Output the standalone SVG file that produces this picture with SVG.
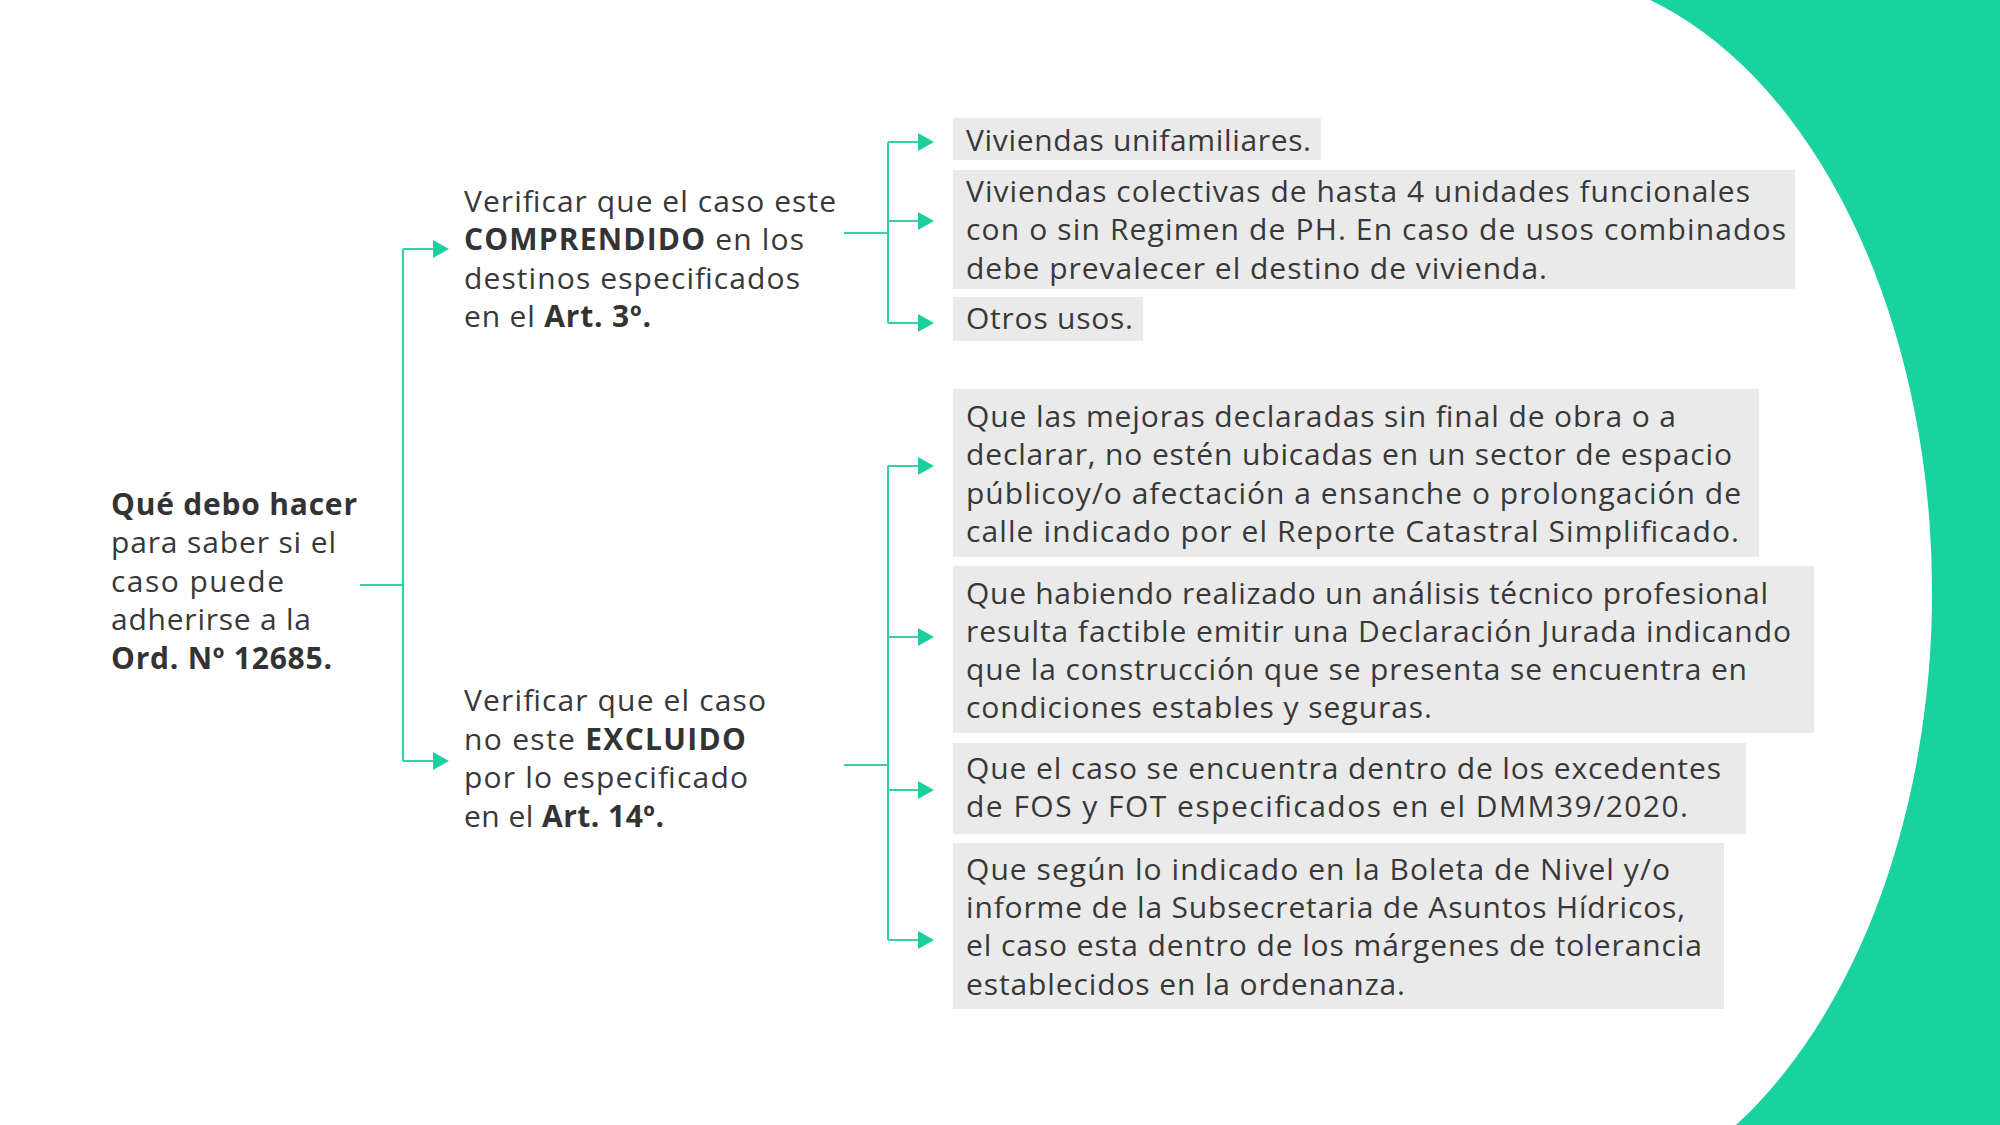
<svg xmlns="http://www.w3.org/2000/svg" width="2000" height="1125" viewBox="0 0 2000 1125">
<style>
.t{font-family:"Open Sans","Noto Sans","DejaVu Sans",sans-serif;font-size:30px;fill:#383838}
.b{font-weight:700;fill:#333333}
.box{fill:#eaeaea}
.c{fill:none;stroke:#2fd3a4;stroke-width:2}
</style>
<defs>
<marker id="ah" markerUnits="userSpaceOnUse" markerWidth="16" markerHeight="18" refX="8" refY="9" orient="auto" viewBox="0 0 16 18">
<path d="M0,0 L16,9 L0,18 Z" fill="#1ccf9e"/>
</marker>
</defs>
<rect width="2000" height="1125" fill="#ffffff"/>
<path id="bg-shape" d="M1650,0 A401,620 0 0 1 1736,1125 L2000,1125 L2000,0 Z" fill="#18d2a0"/>

<g id="connectors">
<path class="c" d="M360,585 H403 M403,249 V761"/>
<path class="c" d="M403,249 H441" marker-end="url(#ah)"/>
<path class="c" d="M403,761 H441" marker-end="url(#ah)"/>
<path class="c" d="M844,233 H888 M888,142 V323"/>
<path class="c" d="M888,142 H926" marker-end="url(#ah)"/>
<path class="c" d="M888,221 H926" marker-end="url(#ah)"/>
<path class="c" d="M888,323 H926" marker-end="url(#ah)"/>
<path class="c" d="M844,765 H888 M888,466 V940"/>
<path class="c" d="M888,466 H926" marker-end="url(#ah)"/>
<path class="c" d="M888,637 H926" marker-end="url(#ah)"/>
<path class="c" d="M888,790 H926" marker-end="url(#ah)"/>
<path class="c" d="M888,940 H926" marker-end="url(#ah)"/>
</g>

<g id="node-root">
<text class="t b" x="111" y="515" textLength="246" lengthAdjust="spacing">Qué debo hacer</text>
<text class="t" x="111" y="553" textLength="225" lengthAdjust="spacing">para saber si el</text>
<text class="t" x="111" y="592" textLength="173" lengthAdjust="spacing">caso puede</text>
<text class="t" x="111" y="630" textLength="200" lengthAdjust="spacing">adherirse a la</text>
<text class="t b" x="111" y="669" textLength="221" lengthAdjust="spacing">Ord. Nº 12685.</text>
</g>

<g id="node-comprendido">
<text class="t" x="464" y="212" textLength="372" lengthAdjust="spacing">Verificar que el caso este</text>
<text class="t" x="464" y="250" textLength="340" lengthAdjust="spacing"><tspan class="b">COMPRENDIDO</tspan> en los</text>
<text class="t" x="464" y="289" textLength="336" lengthAdjust="spacing">destinos especificados</text>
<text class="t" x="464" y="327" textLength="187" lengthAdjust="spacing">en el <tspan class="b">Art. 3º.</tspan></text>
</g>

<g id="node-excluido">
<text class="t" x="464" y="711" textLength="302" lengthAdjust="spacing">Verificar que el caso</text>
<text class="t" x="464" y="750" textLength="282" lengthAdjust="spacing">no este <tspan class="b">EXCLUIDO</tspan></text>
<text class="t" x="464" y="788" textLength="284" lengthAdjust="spacing">por lo especificado</text>
<text class="t" x="464" y="827" textLength="200" lengthAdjust="spacing">en el <tspan class="b">Art. 14º.</tspan></text>
</g>

<g id="node-box1">
<rect class="box" x="953" y="118" width="368" height="42"/>
<text class="t" x="966" y="151" textLength="345" lengthAdjust="spacing">Viviendas unifamiliares.</text>
</g>
<g id="node-box2">
<rect class="box" x="953" y="170" width="842" height="119"/>
<text class="t" x="966" y="202" textLength="784" lengthAdjust="spacing">Viviendas colectivas de hasta 4 unidades funcionales</text>
<text class="t" x="966" y="240" textLength="820" lengthAdjust="spacing">con o sin Regimen de PH. En caso de usos combinados</text>
<text class="t" x="966" y="279" textLength="581" lengthAdjust="spacing">debe prevalecer el destino de vivienda.</text>
</g>
<g id="node-box3">
<rect class="box" x="953" y="297" width="190" height="44"/>
<text class="t" x="966" y="329" textLength="167" lengthAdjust="spacing">Otros usos.</text>
</g>
<g id="node-box4">
<rect class="box" x="953" y="389" width="806" height="168"/>
<text class="t" x="966" y="427" textLength="710" lengthAdjust="spacing">Que las mejoras declaradas sin final de obra o a</text>
<text class="t" x="966" y="465" textLength="766" lengthAdjust="spacing">declarar, no estén ubicadas en un sector de espacio</text>
<text class="t" x="966" y="504" textLength="775" lengthAdjust="spacing">públicoy/o afectación a ensanche o prolongación de</text>
<text class="t" x="966" y="542" textLength="773" lengthAdjust="spacing">calle indicado por el Reporte Catastral Simplificado.</text>
</g>
<g id="node-box5">
<rect class="box" x="953" y="566" width="861" height="167"/>
<text class="t" x="966" y="604" textLength="802" lengthAdjust="spacing">Que habiendo realizado un análisis técnico profesional</text>
<text class="t" x="966" y="642" textLength="825" lengthAdjust="spacing">resulta factible emitir una Declaración Jurada indicando</text>
<text class="t" x="966" y="680" textLength="781" lengthAdjust="spacing">que la construcción que se presenta se encuentra en</text>
<text class="t" x="966" y="718" textLength="466" lengthAdjust="spacing">condiciones estables y seguras.</text>
</g>
<g id="node-box6">
<rect class="box" x="953" y="743" width="793" height="91"/>
<text class="t" x="966" y="779" textLength="755" lengthAdjust="spacing">Que el caso se encuentra dentro de los excedentes</text>
<text class="t" x="966" y="817" textLength="722" lengthAdjust="spacing">de FOS y FOT especificados en el DMM39/2020.</text>
</g>
<g id="node-box7">
<rect class="box" x="953" y="843" width="771" height="166"/>
<text class="t" x="966" y="880" textLength="704" lengthAdjust="spacing">Que según lo indicado en la Boleta de Nivel y/o</text>
<text class="t" x="966" y="918" textLength="719" lengthAdjust="spacing">informe de la Subsecretaria de Asuntos Hídricos,</text>
<text class="t" x="966" y="956" textLength="736" lengthAdjust="spacing">el caso esta dentro de los márgenes de tolerancia</text>
<text class="t" x="966" y="995" textLength="439" lengthAdjust="spacing">establecidos en la ordenanza.</text>
</g>
</svg>
